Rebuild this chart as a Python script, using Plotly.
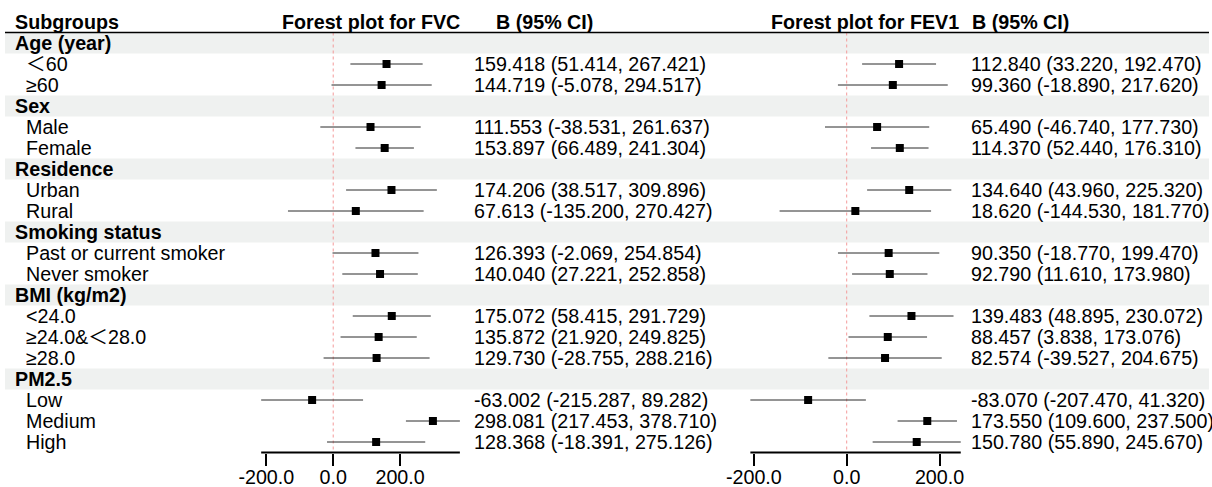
import plotly.graph_objects as go

# ---------------- data ----------------
groups = ["Age (year)", "Sex", "Residence", "Smoking status", "BMI (kg/m2)", "PM2.5"]
subgroups = [
    ["＜60", "≥60"],
    ["Male", "Female"],
    ["Urban", "Rural"],
    ["Past or current smoker", "Never smoker"],
    ["<24.0", "≥24.0&＜28.0", "≥28.0"],
    ["Low", "Medium", "High"],
]

fvc_est = [159.418, 144.719, 111.553, 153.897, 174.206, 67.613, 126.393, 140.040,
           175.072, 135.872, 129.730, -63.002, 298.081, 128.368]
fvc_lo = [51.414, -5.078, -38.531, 66.489, 38.517, -135.200, -2.069, 27.221,
          58.415, 21.920, -28.755, -215.287, 217.453, -18.391]
fvc_hi = [267.421, 294.517, 261.637, 241.304, 309.896, 270.427, 254.854, 252.858,
          291.729, 249.825, 288.216, 89.282, 378.710, 275.126]

fev1_est = [112.840, 99.360, 65.490, 114.370, 134.640, 18.620, 90.350, 92.790,
            139.483, 88.457, 82.574, -83.070, 173.550, 150.780]
fev1_lo = [33.220, -18.890, -46.740, 52.440, 43.960, -144.530, -18.770, 11.610,
           48.895, 3.838, -39.527, -207.470, 109.600, 55.890]
fev1_hi = [192.470, 217.620, 177.730, 176.310, 225.320, 181.770, 199.470, 173.980,
           230.072, 173.076, 204.675, 41.320, 237.500, 245.670]

tick_vals = [-200, 0, 200]
tick_text = ["-200.0", "0.0", "200.0"]

# ---------------- layout helpers ----------------
W, H = 1212, 487
ROW0, ROWH = 43.0, 21.0
FONT = "Liberation Sans, Arial, Noto Sans CJK SC, sans-serif"
FS = 19.7


def px(x):
    return x / W


def esc(s):
    return s.replace("&", "&amp;").replace("<", "&lt;").replace(">", "&gt;")


# rows
group_rows, sub_rows, sub_labels = [], [], []
r = 0
for g, subs in zip(groups, subgroups):
    group_rows.append(r)
    r += 1
    for s in subs:
        sub_rows.append(r)
        sub_labels.append(s)
        r += 1
n_rows = r

y_top = -ROW0 / ROWH
y_bot = (H - ROW0) / ROWH

fig = go.Figure()

panels = [
    ("x", fvc_est, fvc_lo, fvc_hi),
    ("x2", fev1_est, fev1_lo, fev1_hi),
]

for xa, est, lo, hi in panels:
    xs, ys = [], []
    for yy, l, h in zip(sub_rows, lo, hi):
        xs += [l, h, None]
        ys += [yy, yy, None]
    fig.add_trace(go.Scatter(x=xs, y=ys, mode="lines", xaxis=xa, yaxis="y",
                             line=dict(color="#2a2a2a", width=1),
                             hoverinfo="skip", showlegend=False))
    fig.add_trace(go.Scatter(x=est, y=sub_rows, mode="markers", xaxis=xa, yaxis="y",
                             marker=dict(symbol="square", size=8, color="black"),
                             cliponaxis=False, showlegend=False))
    # reference line at 0
    fig.add_shape(type="line", xref=xa, yref="y", x0=0, x1=0, y0=-0.5, y1=n_rows - 0.5,
                  line=dict(color="#F49A9A", width=1, dash="dot"), layer="below")
    # axis line from min lower CI to max upper CI
    fig.add_shape(type="line", xref=xa, yref="y", x0=min(lo), x1=max(hi),
                  y0=n_rows - 0.5, y1=n_rows - 0.5,
                  line=dict(color="black", width=2))

# grey bands for group rows
for gr in group_rows:
    fig.add_shape(type="rect", xref="paper", yref="y", x0=px(5), x1=px(1209),
                  y0=gr - 0.5, y1=gr + 0.5, fillcolor="#EFF1F0",
                  line=dict(width=0), layer="below")

# header underline
fig.add_shape(type="line", xref="paper", yref="y", x0=px(5), x1=px(1209),
              y0=-0.5, y1=-0.5, line=dict(color="black", width=1.5))

annotations = []


def add_text(x, y, text, bold=False, size=FS):
    t = esc(text)
    if bold:
        t = "<b>" + t + "</b>"
    annotations.append(dict(x=px(x), y=y, xref="paper", yref="y", text=t,
                            xanchor="left", yanchor="middle", showarrow=False,
                            font=dict(family=FONT, size=size, color="black"),
                            borderpad=0, borderwidth=0))


# headers
add_text(15, -1, "Subgroups", True)
add_text(282, -1, "Forest plot for FVC", True)
add_text(495.5, -1, "B (95% CI)", True)
add_text(771, -1, "Forest plot for FEV1", True)
add_text(972, -1, "B (95% CI)", True)

for g, gr in zip(groups, group_rows):
    add_text(15, gr, g, True)
for s, sr in zip(sub_labels, sub_rows):
    add_text(26, sr, s)

for yy, e, l, h in zip(sub_rows, fvc_est, fvc_lo, fvc_hi):
    add_text(474, yy, f"{e:.3f} ({l:.3f}, {h:.3f})")
for yy, e, l, h in zip(sub_rows, fev1_est, fev1_lo, fev1_hi):
    add_text(971, yy, f"{e:.3f} ({l:.3f}, {h:.3f})")

# axes geometry
fvc_zero, fvc_scale = 333.2, 0.3345
fev_zero, fev_scale = 846.7, 0.4643
fvc_range = [-250, 400]
fev_range = [-230, 260]
fvc_dom = [px(fvc_zero + fvc_range[0] * fvc_scale), px(fvc_zero + fvc_range[1] * fvc_scale)]
fev_dom = [px(fev_zero + fev_range[0] * fev_scale), px(fev_zero + fev_range[1] * fev_scale)]

axis_pos = 1 - (ROW0 + ROWH * (n_rows - 0.5)) / H

common_x = dict(showgrid=False, zeroline=False, showline=False, ticks="outside",
                ticklen=12, tickwidth=2, tickcolor="black",
                tickvals=tick_vals, ticktext=tick_text,
                tickfont=dict(family=FONT, size=FS, color="black"),
                ticklabelstandoff=-5,
                anchor="free", position=axis_pos, fixedrange=True,
                automargin=False)

fig.update_layout(
    width=W, height=H,
    margin=dict(l=0, r=0, t=0, b=0, pad=0, autoexpand=False),
    paper_bgcolor="white", plot_bgcolor="rgba(0,0,0,0)",
    xaxis=dict(domain=fvc_dom, range=fvc_range, **common_x),
    xaxis2=dict(domain=fev_dom, range=fev_range, **common_x),
    yaxis=dict(domain=[0, 1], range=[y_bot, y_top], visible=False, fixedrange=True,
               automargin=False),
    annotations=annotations,
    showlegend=False,
)

fig.write_html("out.html",
               config={"displayModeBar": False},
               post_script="document.body.style.margin='0';document.body.style.overflow='hidden';")
